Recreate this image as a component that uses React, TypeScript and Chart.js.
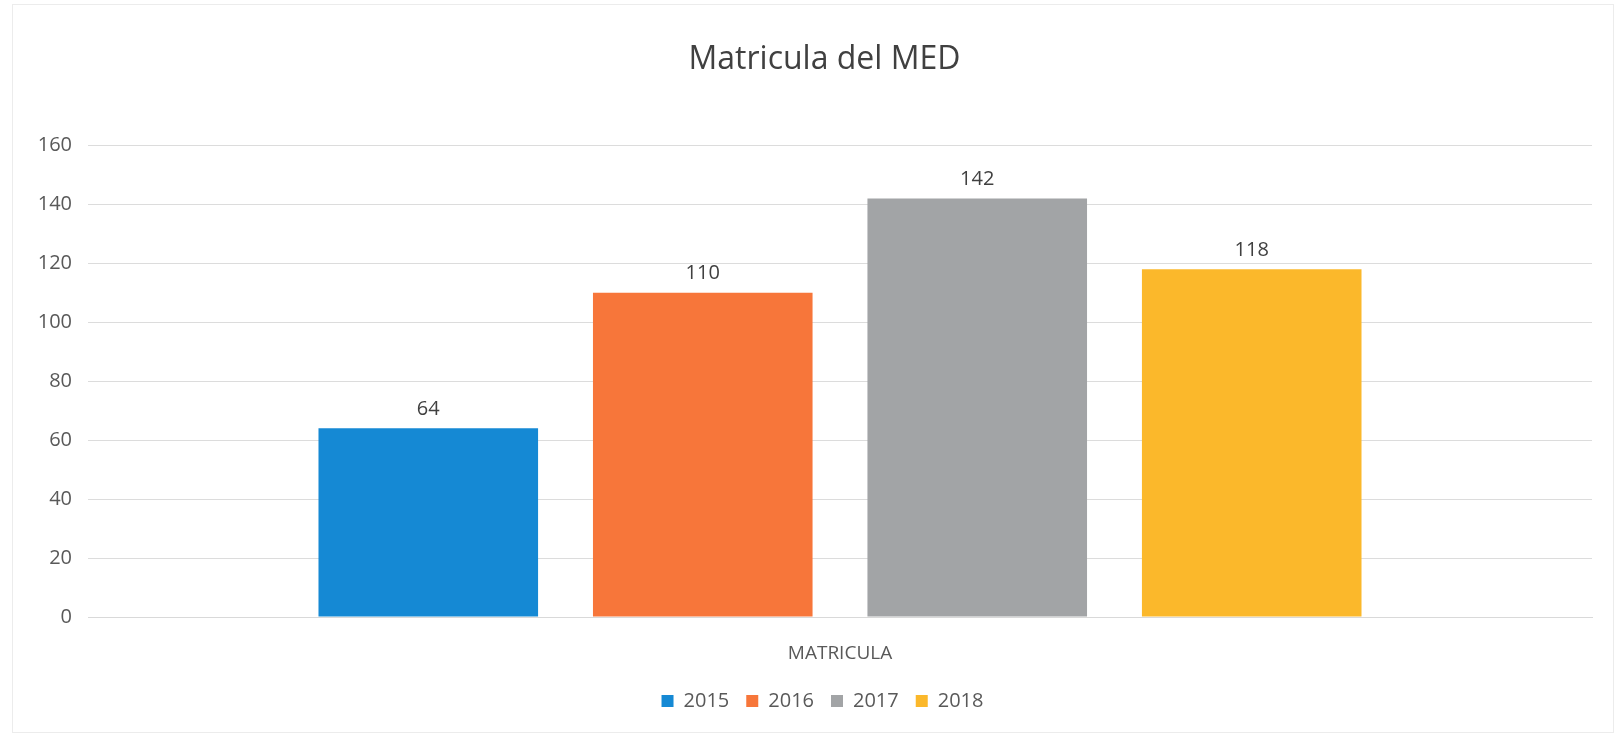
import React, { useEffect, useRef } from "react";
import { Chart, registerables } from "chart.js";

Chart.register(...registerables);

const categories = ["MATRICULA"];
const seriesNames = ["2015", "2016", "2017", "2018"];
const seriesValues = [64, 110, 142, 118];
const seriesColors = ["#1589d4", "#f7763a", "#a2a4a6", "#fbb82b"];
const yTicks = [0, 20, 40, 60, 80, 100, 120, 140, 160];
const chartTitle = "Matricula del MED";

const FONT = "'Open Sans', sans-serif";

const valueLabels = {
  id: "valueLabels",
  afterDatasetsDraw(chart: any) {
    const ctx = chart.ctx;
    ctx.save();
    ctx.font = `20px ${FONT}`;
    ctx.fillStyle = "#404040";
    ctx.textAlign = "center";
    ctx.textBaseline = "middle";
    chart.data.datasets.forEach((ds: any, i: number) => {
      const meta = chart.getDatasetMeta(i);
      meta.data.forEach((el: any, j: number) => {
        ctx.fillText(String(ds.data[j]), el.x, el.y - 19);
      });
    });
    ctx.restore();
  },
};

// nudge the title and legend blocks to the right, as in the reference
const shiftBlocks = {
  id: "shiftBlocks",
  afterLayout(chart: any) {
    if (chart.legend) {
      chart.legend.left += 20;
      chart.legend.right += 20;
    }
    if (chart.titleBlock) {
      chart.titleBlock.left += 22;
      chart.titleBlock.right += 22;
    }
  },
};

export default function App() {
  const ref = useRef<HTMLCanvasElement>(null);
  useEffect(() => {
    if (!ref.current) return;
    const chart = new Chart(ref.current, {
      type: "bar",
      data: {
        labels: categories,
        datasets: seriesNames.map((name, i) => ({
          label: name,
          data: [seriesValues[i]],
          backgroundColor: seriesColors[i],
          borderWidth: 0,
          categoryPercentage: 0.73,
          barPercentage: 0.8,
        })),
      },
      options: {
        animation: false,
        responsive: false,
        maintainAspectRatio: false,
        layout: { padding: { top: 0, right: 21, bottom: 11, left: 0 } },
        plugins: {
          title: {
            display: true,
            text: chartTitle,
            color: "#404040",
            font: { family: FONT, size: 32, weight: "normal" },
            padding: { top: 36, bottom: 66 },
          },
          legend: {
            position: "bottom",
            labels: {
              boxWidth: 12,
              boxHeight: 12,
              padding: 17,
              color: "#595959",
              font: { family: FONT, size: 20 },
            },
          },
          tooltip: { enabled: false },
        },
        scales: {
          x: {
            grid: { display: false, drawTicks: false },
            border: { display: true, color: "#d9d9d9" },
            ticks: {
              color: "#595959",
              font: { family: FONT, size: 19 },
              padding: 25,
            },
            afterFit(scale: any) {
              scale.height = 57;
            },
          },
          y: {
            min: 0,
            max: 160,
            afterBuildTicks(scale: any) {
              scale.ticks = yTicks.map((v) => ({ value: v }));
            },
            grid: { color: "#dcdcdc", drawTicks: false, lineWidth: 1 },
            border: { display: false },
            ticks: {
              color: "#595959",
              font: { family: FONT, size: 20 },
              padding: 16,
            },
            afterFit(scale: any) {
              scale.width = 75;
            },
          },
        },
      },
      plugins: [valueLabels, shiftBlocks],
    });
    return () => chart.destroy();
  }, []);
  return (
    <div
      style={{
        position: "fixed",
        left: 12,
        top: 4,
        width: 1600,
        height: 727,
        border: "1px solid #ececec",
        background: "#fff",
      }}
    >
      <canvas ref={ref} width={1600} height={727} style={{ display: "block" }} />
    </div>
  );
}
